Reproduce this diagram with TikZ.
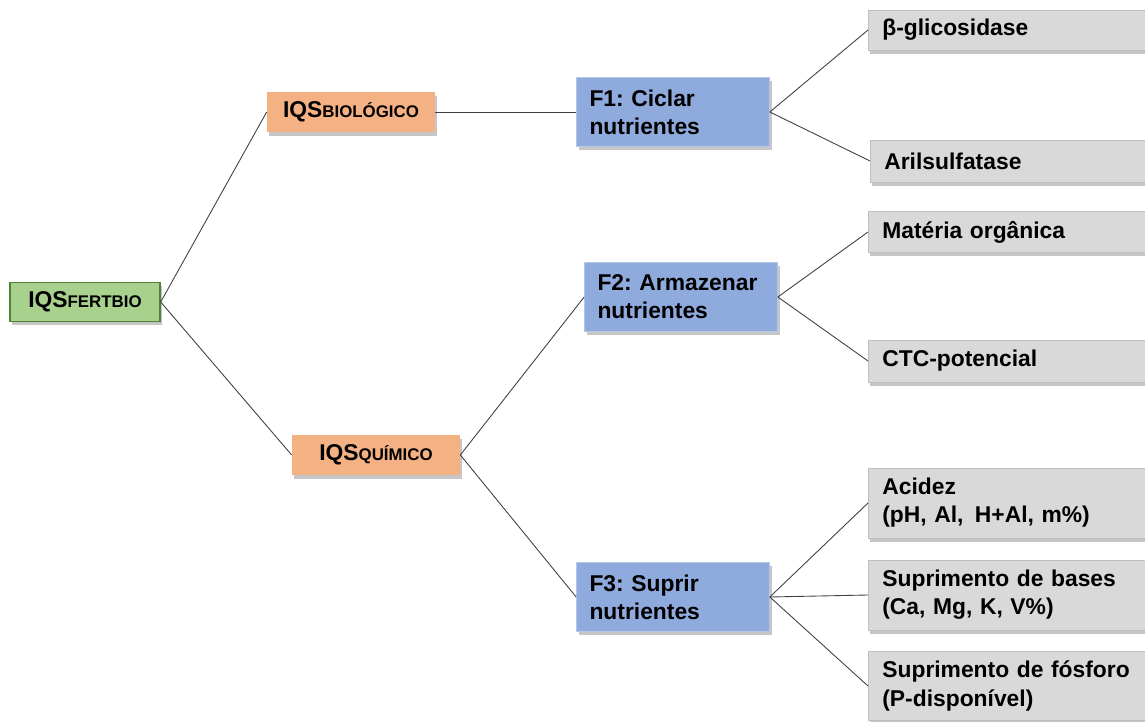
\documentclass[tikz,border=0pt]{standalone}
\usepackage{fontspec}
\setmainfont{Liberation Sans}
\usetikzlibrary{shadows}

\definecolor{rootgreen}{HTML}{A9D18E}
\definecolor{rootline}{HTML}{548235}
\definecolor{idxorange}{HTML}{F4B183}
\definecolor{funcblue}{HTML}{8FAADC}
\definecolor{funcline}{HTML}{B4C7E7}
\definecolor{indgray}{HTML}{D9D9D9}
\definecolor{indline}{HTML}{BFBFBF}

\newcommand{\smcp}[1]{{\fontsize{9.6}{11}\selectfont #1}}

\begin{document}
\frenchspacing
\begin{tikzpicture}[x=0.02cm,y=-0.02cm,
  font=\fontsize{13}{16}\selectfont\bfseries,
  box/.style={drop shadow={shadow xshift=1.2pt,shadow yshift=-2pt,opacity=.45}},
  root/.style={box,draw=rootline,line width=0.8pt,fill=rootgreen,
    minimum width=3cm,minimum height=0.78cm},
  idx/.style={box,fill=idxorange,minimum width=3.36cm,minimum height=0.8cm},
  func/.style={box,draw=funcline,fill=funcblue,minimum width=3.86cm,
    minimum height=1.38cm,text width=3.34cm,align=left},
  ind/.style={box,draw=indline,fill=indgray,anchor=west,minimum width=6cm,
    text width=5.44cm,align=left},
  link/.style={black!75,line width=0.5pt}]
  \clip (0,0) rectangle (1145,722);
  % levels
  \node[root] (fert) at (85,302) {IQS\smcp{FERTBIO}};
  \node[idx] (bio) at (351,112) {IQS\smcp{BIOLÓGICO}};
  \node[idx] (qui) at (376,455) {IQS\smcp{QUÍMICO}};
  \node[func] (f1) at (673,112) {F1: Ciclar\\nutrientes};
  \node[func] (f2) at (681,297) {F2: Armazenar\\nutrientes};
  \node[func] (f3) at (673,597) {F3: Suprir\\nutrientes};
  % indicators
  \node[ind,minimum height=0.8cm] (glic) at (868,30) {β-glicosidase};
  \node[ind,minimum height=0.84cm] (aril) at (870,161) {Arilsulfatase};
  \node[ind,minimum height=0.82cm] (mat) at (868,232) {Matéria orgânica};
  \node[ind,minimum height=0.84cm] (ctc) at (868,361) {CTC-potencial};
  \node[ind,minimum height=1.4cm] (acid) at (868,503) {Acidez\\(pH, Al,\hspace{0.5em}H+Al, m\%)};
  \node[ind,minimum height=1.4cm] (bases) at (868,595) {Suprimento de bases\\(Ca, Mg, K, V\%)};
  \node[ind,minimum height=1.38cm] (fosf) at (868,686) {Suprimento de fósforo\\(P-disponível)};
  % links
  \draw[link] (fert.east) -- (bio.west);
  \draw[link] (fert.east) -- (qui.west);
  \draw[link] (bio.east) -- (f1.west);
  \draw[link] (qui.east) -- (f2.west);
  \draw[link] (qui.east) -- (f3.west);
  \draw[link] (f1.east) -- (glic.west);
  \draw[link] (f1.east) -- (aril.west);
  \draw[link] (f2.east) -- (mat.west);
  \draw[link] (f2.east) -- (ctc.west);
  \draw[link] (f3.east) -- (acid.west);
  \draw[link] (f3.east) -- (bases.west);
  \draw[link] (f3.east) -- (fosf.west);
\end{tikzpicture}
\end{document}
